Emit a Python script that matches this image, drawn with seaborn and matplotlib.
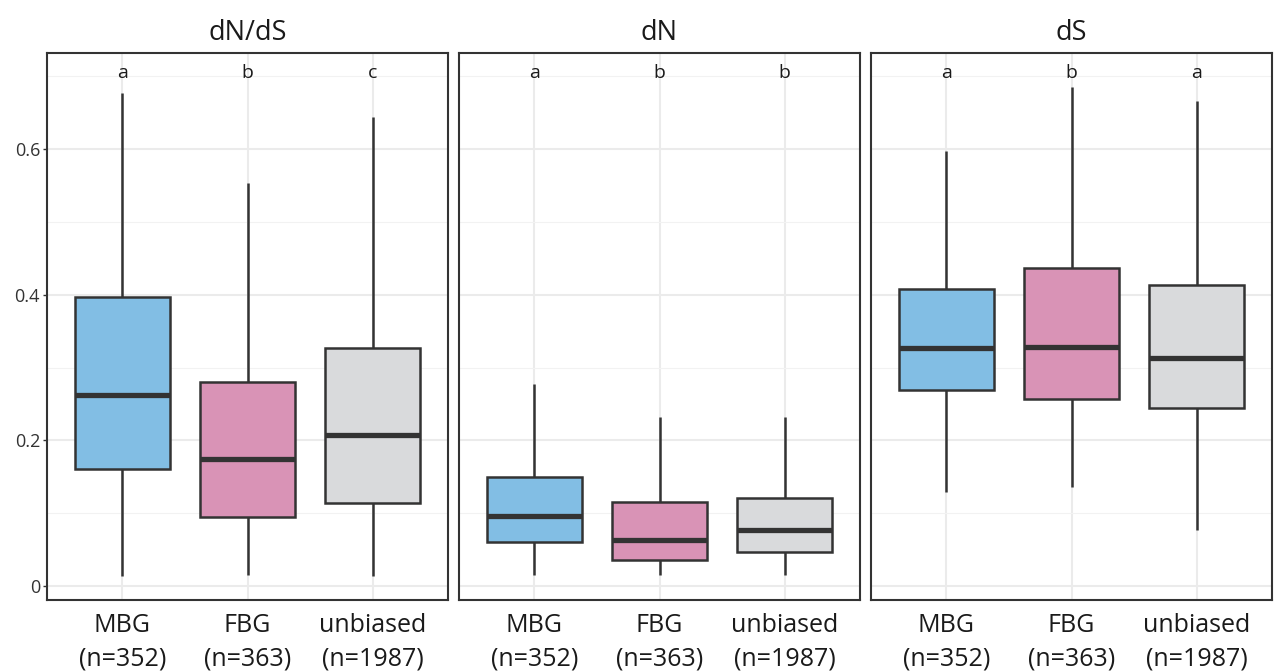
import numpy as np
import pandas as pd
import matplotlib
matplotlib.use("Agg")
import matplotlib.pyplot as plt
import seaborn as sns
from matplotlib.ticker import MultipleLocator

# five-number summaries: whisker low, Q1, median, Q3, whisker high
groups = ["MBG", "FBG", "unbiased"]
group_labels = ["MBG\n(n=352)", "FBG\n(n=363)", "unbiased\n(n=1987)"]
panels = ["dN/dS", "dN", "dS"]

dnds_mbg = [0.014, 0.161, 0.262, 0.397, 0.677]
dnds_fbg = [0.015, 0.095, 0.174, 0.280, 0.553]
dnds_unb = [0.014, 0.114, 0.207, 0.327, 0.644]

dn_mbg = [0.016, 0.060, 0.097, 0.150, 0.278]
dn_fbg = [0.015, 0.036, 0.063, 0.115, 0.232]
dn_unb = [0.015, 0.047, 0.077, 0.121, 0.232]

ds_mbg = [0.129, 0.270, 0.327, 0.408, 0.598]
ds_fbg = [0.136, 0.257, 0.328, 0.437, 0.685]
ds_unb = [0.077, 0.244, 0.313, 0.413, 0.666]

letters = {
    "dN/dS": ["a", "b", "c"],
    "dN": ["a", "b", "b"],
    "dS": ["a", "b", "a"],
}

colors = ["#82BEE4", "#D993B6", "#D9DADC"]

summaries = {
    "dN/dS": [dnds_mbg, dnds_fbg, dnds_unb],
    "dN": [dn_mbg, dn_fbg, dn_unb],
    "dS": [ds_mbg, ds_fbg, ds_unb],
}

rows = []
for p in panels:
    for g, vals in zip(groups, summaries[p]):
        for v in vals:
            rows.append({"panel": p, "group": g, "value": v})
df = pd.DataFrame(rows)

sns.set_style("white")
plt.rcParams["font.family"] = ["Open Sans", "DejaVu Sans"]

fig = plt.figure(figsize=(12.77, 6.71), dpi=100)
lefts = [47, 459, 871]
width_px = 401
bottom = 1 - 600 / 671
height = (600 - 53) / 671

dark = "#333333"
for i, p in enumerate(panels):
    ax = fig.add_axes([lefts[i] / 1277, bottom, width_px / 1277, height])
    sub = df[df["panel"] == p]
    sns.boxplot(data=sub, x="group", y="value", hue="group", order=groups,
                hue_order=groups, palette=colors, saturation=1, legend=False, ax=ax,
                whis=(0, 100), width=0.76, showcaps=False, showfliers=False,
                linecolor=dark, linewidth=1.8,
                medianprops={"linewidth": 3.8, "color": dark},
                zorder=3)
    ax.set_xlim(-0.6, 2.6)
    ax.set_ylim(-0.019, 0.732)
    ax.yaxis.set_major_locator(MultipleLocator(0.2))
    ax.yaxis.set_minor_locator(MultipleLocator(0.1))
    ax.grid(True, which="major", color="#EBEBEB", linewidth=1.5, zorder=0)
    ax.grid(True, which="minor", axis="y", color="#F2F2F2", linewidth=0.8, zorder=0)
    ax.set_axisbelow(True)
    for s in ax.spines.values():
        s.set_color(dark)
        s.set_linewidth(1.5)
    ax.set_xlabel("")
    ax.set_ylabel("")
    ax.set_xticks(range(3))
    ax.set_xticklabels(group_labels, fontsize=18, color="#1A1A1A",
                       linespacing=1.45)
    ax.tick_params(axis="x", length=3, width=1, color=dark, pad=6)
    if i == 0:
        ax.set_yticks([0, 0.2, 0.4, 0.6])
        ax.set_yticklabels(["0", "0.2", "0.4", "0.6"], fontsize=13, color="#333333")
        ax.tick_params(axis="y", which="major", length=3, width=1, color=dark,
                       left=True, pad=2)
        ax.tick_params(axis="y", which="minor", length=0)
    else:
        ax.tick_params(axis="y", which="both", left=False, labelleft=False)
    ax.set_title(p, fontsize=19.5, pad=9, color="#1A1A1A")
    for j, lab in enumerate(letters[p]):
        ax.text(j, 0.704, lab, ha="center", va="center", fontsize=14, color="#1A1A1A")

fig.savefig("out.png", dpi=100)
